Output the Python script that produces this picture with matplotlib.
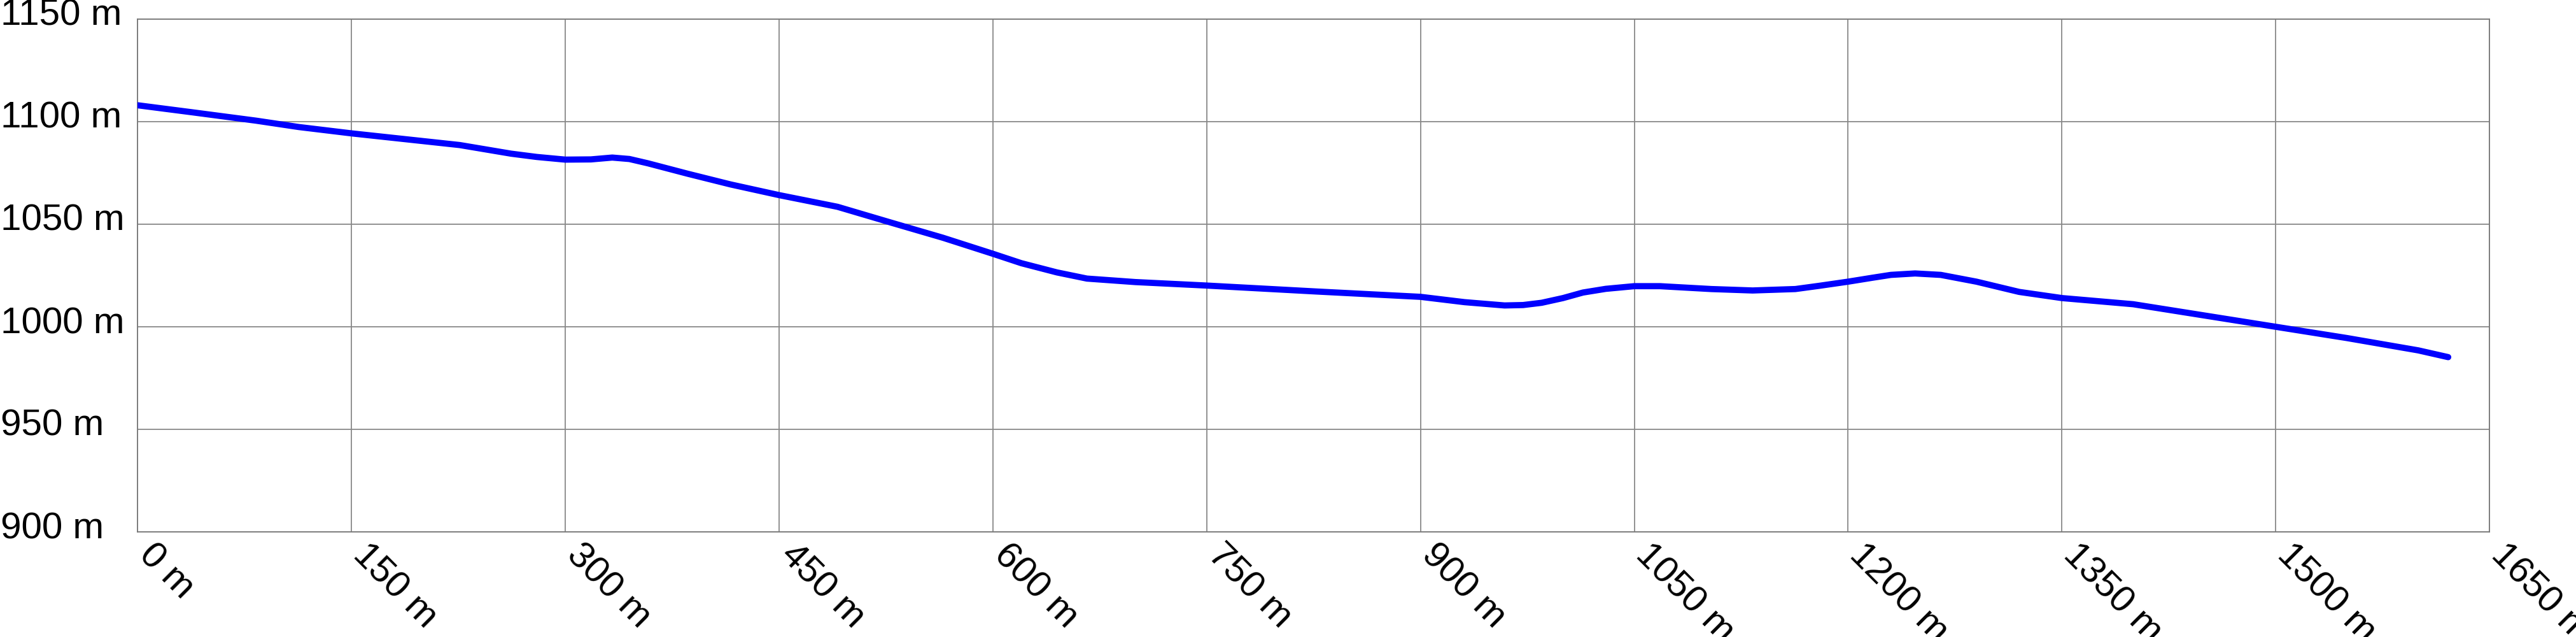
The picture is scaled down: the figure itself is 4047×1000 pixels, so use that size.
import matplotlib
matplotlib.use("Agg")
import matplotlib.pyplot as plt
from matplotlib.transforms import ScaledTranslation

# elevation profile (distance in m, elevation in m)
distance = [0, 38, 83, 113, 150, 226, 262, 280, 300, 318, 333, 345, 358, 386,
            416, 450, 491, 529, 565, 600, 620, 645, 666, 700, 750, 827, 900,
            931, 959, 972, 985, 1000, 1014, 1030, 1050, 1068, 1104, 1133, 1163,
            1180, 1200, 1217, 1230, 1247, 1265, 1290, 1320, 1350, 1400,
            1450, 1500, 1550, 1600, 1621]
elevation = [1108.0, 1104.6, 1100.5, 1097.4, 1094.3, 1088.6, 1084.4, 1082.8,
             1081.5, 1081.6, 1082.5, 1081.8, 1079.7, 1074.6, 1069.4, 1064.2,
             1058.5, 1050.7, 1043.4, 1035.6, 1031.0, 1026.5, 1023.5, 1021.8,
             1020.1, 1017.2, 1014.6, 1012.0, 1010.4, 1010.6, 1011.7, 1014.0,
             1016.7, 1018.5, 1019.8, 1019.8, 1018.4, 1017.7, 1018.4, 1020.0,
             1022.0, 1023.9, 1025.3, 1026.0, 1025.3, 1022.0, 1017.0,
             1014.0, 1011.0, 1005.5, 1000.0, 994.5, 988.5, 985.2]

x_ticks = list(range(0, 1651, 150))
y_ticks = [900, 950, 1000, 1050, 1100, 1150]

plt.rcParams["font.family"] = ["Liberation Sans", "DejaVu Sans"]

fig = plt.figure(figsize=(40.48, 10.0), dpi=100)
ax = fig.add_axes([0.0534, 0.165, 0.9128, 0.805])

ax.plot(distance, elevation, color="#0000ff", lw=7,
        solid_capstyle="round", solid_joinstyle="round", zorder=3)

ax.set_xlim(0, 1650)
ax.set_ylim(900, 1150)
ax.set_xticks(x_ticks)
ax.set_yticks(y_ticks)
ax.set_xticklabels([f"{v} m" for v in x_ticks])
ax.set_yticklabels([f"{v} m" for v in y_ticks])

ax.grid(True, color="#888888", lw=1.3, zorder=0)
for s in ax.spines.values():
    s.set_color("#777777")
    s.set_linewidth(1.3)

ax.tick_params(axis="both", length=0, labelsize=42, colors="black")
ax.tick_params(axis="y", pad=155)
ax.tick_params(axis="x", pad=28)

# y labels sit left-aligned at the figure edge, baseline just under the grid line
shift = ScaledTranslation(0, -7.2 / 72, fig.dpi_scale_trans)
for lbl in ax.get_yticklabels():
    lbl.set_horizontalalignment("left")
    lbl.set_verticalalignment("baseline")
    lbl.set_transform(lbl.get_transform() + shift)

for lbl in ax.get_xticklabels():
    lbl.set_rotation(-45)
    lbl.set_rotation_mode("anchor")
    lbl.set_horizontalalignment("left")
    lbl.set_verticalalignment("baseline")

fig.savefig("out.png", dpi=100)
